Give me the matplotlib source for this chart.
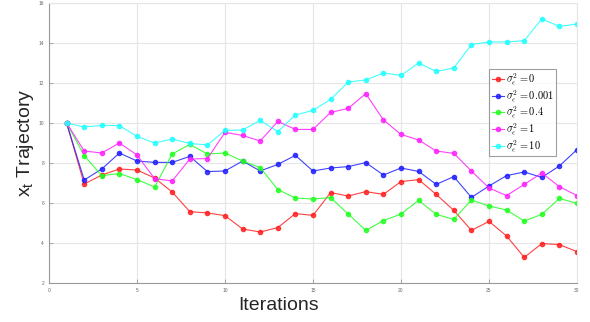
import numpy as np
import matplotlib
matplotlib.use("Agg")
import matplotlib.pyplot as plt
from matplotlib.colors import to_rgba

plt.rcParams['font.family'] = ['Liberation Sans', 'DejaVu Sans']
plt.rcParams['mathtext.fontset'] = 'cm'

iterations = list(range(1, 31))

x_var0 = [10, 6.95, 7.4, 7.7, 7.65, 7.25, 6.55, 5.57, 5.5, 5.37,
          4.7, 4.55, 4.77, 5.47, 5.38, 6.52, 6.35, 6.57, 6.43, 7.07,
          7.17, 6.43, 5.63, 4.63, 5.08, 4.35, 3.28, 3.97, 3.92, 3.57]
x_var0001 = [10, 7.15, 7.7, 8.5, 8.1, 8.03, 8.03, 8.33, 7.57, 7.6,
             8.1, 7.6, 7.93, 8.38, 7.6, 7.75, 7.82, 8.02, 7.4, 7.75,
             7.58, 6.93, 7.32, 6.28, 6.85, 7.37, 7.55, 7.28, 7.85, 8.67]
x_var04 = [10, 8.37, 7.37, 7.47, 7.17, 6.8, 8.45, 8.93, 8.45, 8.5,
           8.1, 7.77, 6.67, 6.25, 6.2, 6.27, 5.45, 4.63, 5.12, 5.45,
           6.13, 5.43, 5.18, 6.15, 5.85, 5.65, 5.1, 5.43, 6.23, 5.98]
x_var1 = [10, 8.6, 8.5, 9.0, 8.4, 7.22, 7.1, 8.2, 8.22, 9.53,
          9.38, 9.1, 10.08, 9.68, 9.68, 10.53, 10.73, 11.47, 10.15, 9.43,
          9.15, 8.6, 8.48, 7.6, 6.75, 6.37, 6.93, 7.5, 6.82, 6.37]
x_var10 = [10, 9.8, 9.88, 9.87, 9.33, 9.0, 9.2, 8.98, 8.9, 9.63,
           9.65, 10.13, 9.57, 10.4, 10.63, 11.18, 12.05, 12.15, 12.5, 12.38,
           13.0, 12.58, 12.75, 13.92, 14.05, 14.05, 14.12, 15.2, 14.83, 14.95]

series = [x_var0, x_var0001, x_var04, x_var1, x_var10]
labels = [r'$\sigma_\epsilon^2 = 0$', r'$\sigma_\epsilon^2 = 0.001$',
          r'$\sigma_\epsilon^2 = 0.4$', r'$\sigma_\epsilon^2 = 1$',
          r'$\sigma_\epsilon^2 = 10$']
colors = ['#ff2020', '#2020ff', '#20ff20', '#ff20ff', '#20ffff']

fig = plt.figure(figsize=(5.9, 3.22), dpi=100)
ax = fig.add_axes([49 / 590, 39 / 322, 528 / 590, 280 / 322])

for y, lab, c in zip(series, labels, colors):
    ax.plot(iterations, y, color=c, alpha=0.85, linewidth=0.8, marker='o',
            markersize=3.2, markerfacecolor=to_rgba(c, 0.35),
            markeredgecolor=c, markeredgewidth=0.8, label=lab)

ax.set_xlim(0, 30)
ax.set_ylim(2, 16)
ax.set_xticks([0, 5, 10, 15, 20, 25, 30])
ax.set_yticks([2, 4, 6, 8, 10, 12, 14, 16])
ax.grid(True, color='#e6e6e6', linewidth=0.8)
ax.set_axisbelow(True)
for s in ['top', 'right']:
    ax.spines[s].set_color('#e6e6e6')
for s in ['left', 'bottom']:
    ax.spines[s].set_color('#999999')
ax.tick_params(direction='in', length=3, width=0.6, colors='#999999',
               labelsize=3.5, labelcolor='#666666', top=False, right=False)

ax.set_xlabel('Iterations', fontsize=14, color='#262626')
ax.xaxis.set_label_coords(0.434, -0.05)
ax.set_ylabel(r'$\mathregular{x_t}$ Trajectory', fontsize=14, color='#262626')
ax.yaxis.set_label_coords(-0.025, 0.5)

leg = ax.legend(loc='upper left', bbox_to_anchor=(440 / 528, 1 - 66 / 280),
                fontsize=7.5, frameon=True, fancybox=False, handlelength=1.2,
                handletextpad=0.15, borderpad=0.25, labelspacing=0.12,
                borderaxespad=0)
leg.get_frame().set_edgecolor('#888888')
leg.get_frame().set_linewidth(0.8)

fig.savefig('out.png', dpi=100)
